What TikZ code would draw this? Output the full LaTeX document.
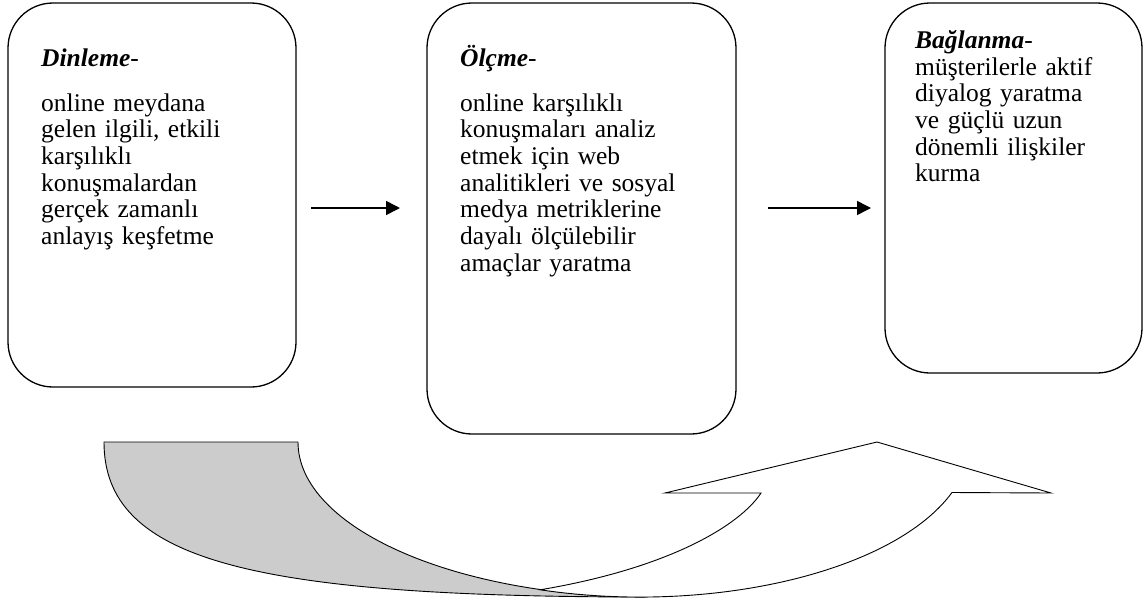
\documentclass[tikz,border=0pt]{standalone}
\usepackage{fontspec}
\setmainfont{Liberation Serif}
\usetikzlibrary{arrows.meta}
\begin{document}
\begin{tikzpicture}[x=1pt,y=-1pt,
  box/.style={draw, line width=1.3pt, rounded corners=45pt, inner sep=0pt},
  body/.style={anchor=base west, inner sep=0pt, font=\fontsize{25.5}{26.7}\selectfont, text width=320pt, align=left},
  head/.style={anchor=base west, inner sep=0pt, font=\fontsize{25.5}{26.7}\selectfont},
  flow/.style={line width=1.6pt, -{Triangle[length=14pt,width=14pt]}},
  band/.style={line width=0.9pt, line join=miter}]
\useasboundingbox (0,0) rectangle (1144,603);

% boxes
\node[box, minimum width=288pt, minimum height=384pt] (b1) at (152,195) {};
\node[box, minimum width=309pt, minimum height=431pt] (b2) at (581.5,218.5) {};
\node[box, minimum width=257pt, minimum height=370pt] (b3) at (1013.5,188) {};

% texts
\node[head] (h1) at (41,66) {\textbf{\textit{Dinleme}}-};
\node[body] (t1) at (41,111) {online meydana\\gelen ilgili, etkili\\karşılıklı\\konuşmalardan\\gerçek zamanlı\\anlayış keşfetme};
\node[head] (h2) at (460,66) {\textbf{\textit{Ölçme}}-};
\node[body] (t2) at (460,111) {online karşılıklı\\konuşmaları analiz\\etmek için web\\analitikleri ve sosyal\\medya metriklerine\\dayalı ölçülebilir\\amaçlar yaratma};
\node[head] (h3) at (915,48) {\textbf{\textit{Bağlanma}}-};
\node[body] (t3) at (915,75) {müşterilerle aktif\\diyalog yaratma\\ve güçlü uzun\\dönemli ilişkiler\\kurma};

% flow arrows
\coordinate (a1s) at (311,208);
\coordinate (a1e) at (400,208);
\coordinate (a2s) at (768,208);
\coordinate (a2e) at (871,208);
\draw[flow] (a1s) -- (a1e);
\draw[flow] (a2s) -- (a2e);

% curved up arrow: back band
\draw[band, fill=gray!40] (104,442) -- (298,442)
  .. controls (298,527.6) and (454.7,597) .. (648,597)
  .. controls (250,597) and (104,560) .. (104,442) -- cycle;
% curved up arrow: front band with head
\draw[band, fill=white] (761,493) -- (665,493) -- (877,442) -- (1051,493) -- (952,492.5)
  arc[start angle=19, end angle=107.6, x radius=330, y radius=155]
  .. controls (670,568) and (740,525) .. (761,493) -- cycle;
\end{tikzpicture}
\end{document}
